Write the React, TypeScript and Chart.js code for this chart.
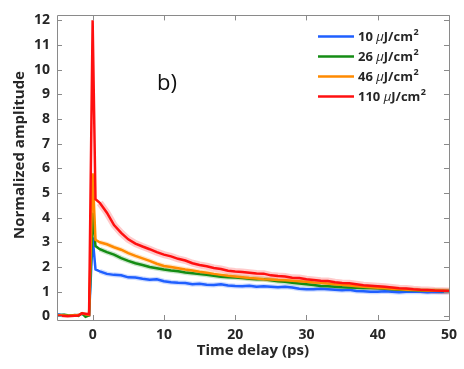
import React, { useEffect, useRef } from 'react';
import { Chart, registerables } from 'chart.js';
Chart.register(...registerables);

// time delay (ps)
const times = [-5, -4.5, -4, -3.5, -3, -2.5, -2, -1.5, -1, -0.5, 0, 0.4,
  1, 2, 3, 4, 5, 6, 7, 8, 9, 10, 11, 12, 13, 14, 15, 16, 17, 18, 19, 20,
  21, 22, 23, 24, 25, 26, 27, 28, 29, 30, 31, 32, 33, 34, 35, 36, 37, 38, 39, 40,
  41, 42, 43, 44, 45, 46, 47, 48, 49, 50];

const blue10 = [0.08, 0.06, 0.05, 0.03, 0.02, 0.04, 0.05, 0.1, 0.06, 0.05, 3.2, 1.9,
  1.82, 1.72, 1.68, 1.66, 1.58, 1.57, 1.52, 1.48, 1.5, 1.42,
  1.38, 1.36, 1.35, 1.3, 1.32, 1.28, 1.27, 1.3, 1.25, 1.23,
  1.22, 1.24, 1.2, 1.22, 1.2, 1.18, 1.2, 1.17, 1.12, 1.1,
  1.1, 1.12, 1.1, 1.08, 1.06, 1.08, 1.03, 1.02, 1.0, 1.0,
  1.02, 1.0, 0.98, 1.0, 1.0, 1.0, 0.98, 1.0, 0.99, 1.0];

const green26 = [0.04, 0.05, 0.06, 0.04, 0.03, 0.05, 0.02, 0.12, -0.02, 0.04, 4.2, 2.85,
  2.72, 2.6, 2.5, 2.36, 2.25, 2.15, 2.08, 2.0, 1.95, 1.9,
  1.86, 1.83, 1.78, 1.75, 1.71, 1.68, 1.64, 1.6, 1.58, 1.57,
  1.55, 1.52, 1.5, 1.5, 1.46, 1.42, 1.4, 1.36, 1.33, 1.3,
  1.27, 1.23, 1.22, 1.2, 1.18, 1.17, 1.16, 1.15, 1.15, 1.14,
  1.12, 1.1, 1.08, 1.07, 1.06, 1.05, 1.04, 1.04, 1.03, 1.03];

const orange46 = [0.03, 0.04, 0.03, 0.02, 0.03, 0.04, 0.05, 0.12, 0.08, 0.05, 5.8, 3.1,
  3.0, 2.92, 2.8, 2.7, 2.56, 2.45, 2.35, 2.25, 2.13, 2.04,
  2.0, 1.95, 1.9, 1.86, 1.81, 1.77, 1.72, 1.68, 1.64, 1.61,
  1.58, 1.55, 1.53, 1.5, 1.49, 1.47, 1.46, 1.44, 1.42, 1.4,
  1.37, 1.36, 1.33, 1.3, 1.28, 1.25, 1.22, 1.2, 1.18, 1.16,
  1.14, 1.12, 1.1, 1.08, 1.07, 1.06, 1.05, 1.05, 1.04, 1.03];

const red110 = [0.02, 0.02, 0.01, 0.0, 0.01, 0.02, 0.03, 0.12, 0.1, 0.08, 12.0, 4.75,
  4.6, 4.2, 3.7, 3.38, 3.12, 2.95, 2.83, 2.72, 2.6, 2.5,
  2.43, 2.33, 2.26, 2.15, 2.08, 2.03, 1.96, 1.92, 1.85, 1.82,
  1.8, 1.77, 1.74, 1.73, 1.66, 1.63, 1.61, 1.56, 1.55, 1.5,
  1.47, 1.44, 1.43, 1.38, 1.35, 1.34, 1.3, 1.26, 1.24, 1.22,
  1.2, 1.17, 1.14, 1.13, 1.1, 1.08, 1.07, 1.05, 1.04, 1.03];

const seriesLabels = ['10', '26', '46', '110'];
const seriesColors = ['#1f5fff', '#148c14', '#ff8a00', '#ff1010'];
const bandColors = ['rgba(31,95,255,0.22)', 'rgba(20,140,20,0.22)', 'rgba(255,138,0,0.22)', 'rgba(255,16,16,0.22)'];
const seriesValues = [blue10, green26, orange46, red110];

const xTicks = [0, 10, 20, 30, 40, 50];
const yTicks = [0, 1, 2, 3, 4, 5, 6, 7, 8, 9, 10, 11, 12];

const FONT = '"Open Sans", "DejaVu Sans", sans-serif';
const TXT = '#262626';
const AXIS = '#8a8a8a';

const boxPlugin = {
  id: 'boxPlugin',
  afterDatasetsDraw(chart: any) {
    const { ctx, chartArea: a, scales } = chart;
    ctx.save();
    ctx.strokeStyle = AXIS;
    ctx.lineWidth = 1;
    ctx.beginPath();
    ctx.rect(Math.round(a.left) + 0.5, Math.round(a.top) + 0.5, Math.round(a.right - a.left), Math.round(a.bottom - a.top));
    ctx.stroke();
    const tl = 5;
    ctx.beginPath();
    for (const v of xTicks) {
      const x = Math.round(scales.x.getPixelForValue(v)) + 0.5;
      ctx.moveTo(x, a.bottom); ctx.lineTo(x, a.bottom - tl);
      ctx.moveTo(x, a.top); ctx.lineTo(x, a.top + tl);
    }
    for (const v of yTicks) {
      const y = Math.round(scales.y.getPixelForValue(v)) + 0.5;
      ctx.moveTo(a.left, y); ctx.lineTo(a.left + tl, y);
      ctx.moveTo(a.right, y); ctx.lineTo(a.right - tl, y);
    }
    ctx.stroke();
    ctx.restore();
  },
  afterDraw(chart: any) {
    const { ctx, chartArea: a } = chart;
    ctx.save();
    // y-axis title
    ctx.save();
    ctx.translate(20, 155);
    ctx.rotate(-Math.PI / 2);
    ctx.fillStyle = TXT;
    ctx.font = `bold 15px ${FONT}`;
    ctx.textAlign = 'center';
    ctx.textBaseline = 'middle';
    ctx.fillText('Normalized amplitude', 0, 0);
    ctx.restore();
    // panel label
    ctx.fillStyle = '#111';
    ctx.font = `22px ${FONT}`;
    ctx.textBaseline = 'alphabetic';
    ctx.textAlign = 'left';
    ctx.fillText('b)', a.left + 100, a.top + 75);
    // legend
    const x0 = a.right - 131;
    for (let i = 0; i < seriesLabels.length; i++) {
      const y = a.top + 21 + i * 20;
      ctx.strokeStyle = seriesColors[i];
      ctx.lineWidth = 2.5;
      ctx.beginPath();
      ctx.moveTo(x0, y); ctx.lineTo(x0 + 36, y);
      ctx.stroke();
      let x = x0 + 40;
      const base = y + 5;
      ctx.fillStyle = TXT;
      ctx.font = `bold 13px ${FONT}`;
      const t1 = seriesLabels[i] + ' ';
      ctx.fillText(t1, x, base); x += ctx.measureText(t1).width;
      ctx.font = `italic 13px ${FONT}`;
      ctx.fillText('\u03bc', x, base); x += ctx.measureText('\u03bc').width;
      ctx.font = `bold 13px ${FONT}`;
      ctx.fillText('J/cm', x, base); x += ctx.measureText('J/cm').width;
      ctx.font = `bold 9px ${FONT}`;
      ctx.fillText('2', x + 0.5, base - 6);
    }
    ctx.restore();
  },
};

export default function App() {
  const ref = useRef<HTMLCanvasElement | null>(null);
  useEffect(() => {
    document.body.style.margin = '0';
    const canvas = ref.current!;
    const lines = seriesValues.map((vals, i) => ({
      label: seriesLabels[i],
      data: times.map((t, j) => ({ x: t, y: vals[j] })),
      borderColor: seriesColors[i],
      borderWidth: 2.5,
      pointRadius: 0,
      tension: 0,
      fill: false,
      order: 3 - i,
    }));
    const bands = seriesValues.map((vals, i) => ({
      label: 'band' + seriesLabels[i],
      data: times.map((t, j) => ({ x: t, y: vals[j] })).filter((p) => p.x >= 1),
      borderColor: bandColors[i],
      borderWidth: i === 3 ? 7 : 5,
      pointRadius: 0,
      tension: 0,
      fill: false,
      order: 13 - i,
    }));
    const chart = new Chart(canvas, {
      type: 'line',
      data: { datasets: [...lines, ...bands] as any },
      options: {
        animation: false,
        responsive: false,
        parsing: false as any,
        layout: { padding: { top: 7, right: 10, left: 0, bottom: 0 } },
        plugins: { legend: { display: false }, tooltip: { enabled: false } },
        scales: {
          x: {
            type: 'linear',
            min: -5,
            max: 50,
            afterBuildTicks: (s: any) => { s.ticks = xTicks.map((v) => ({ value: v })); },
            afterFit: (s: any) => { s.height = 49; },
            grid: { display: false, drawTicks: false },
            border: { display: false },
            ticks: { color: TXT, font: { family: FONT, size: 14, weight: 'bold' }, padding: 7, maxRotation: 0 },
            title: { display: true, text: 'Time delay (ps)', color: TXT, font: { family: FONT, size: 15, weight: 'bold' }, padding: { top: 0, bottom: 9 } },
          },
          y: {
            type: 'linear',
            min: -0.15,
            max: 12.2,
            afterBuildTicks: (s: any) => { s.ticks = yTicks.map((v) => ({ value: v })); },
            afterFit: (s: any) => { s.width = 57; },
            grid: { display: false, drawTicks: false },
            border: { display: false },
            ticks: { color: TXT, font: { family: FONT, size: 14, weight: 'bold' }, padding: 7 },
            title: { display: false },
          },
        },
      } as any,
      plugins: [boxPlugin],
    });
    return () => chart.destroy();
  }, []);
  return (
    <div style={{ width: 464, height: 369, background: '#fff' }}>
      <canvas ref={ref} width={464} height={369} style={{ display: 'block' }} />
    </div>
  );
}
